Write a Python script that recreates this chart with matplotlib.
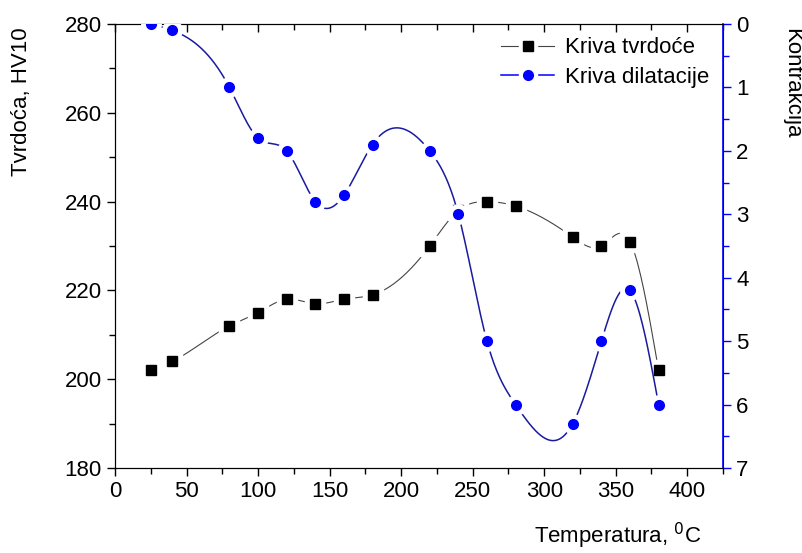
import numpy as np
import matplotlib
matplotlib.use('Agg')
import matplotlib.pyplot as plt
from matplotlib.ticker import MultipleLocator
from matplotlib.lines import Line2D
from matplotlib.legend_handler import HandlerTuple

plt.rcParams['font.family'] = ['Liberation Sans', 'DejaVu Sans']

# temperature, deg C
temp = [25, 40, 80, 100, 120, 140, 160, 180, 220, 240, 260, 280, 320, 340, 360, 380]
# hardness HV10
tvrdoca = [202, 204, 212, 215, 218, 217, 218, 219, 230, 238, 240, 239, 232, 230, 231, 202]
# contraction
kontrakcija = [0.0, 0.1, 1.0, 1.8, 2.0, 2.8, 2.7, 1.9, 2.0, 3.0, 5.0, 6.0, 6.3, 5.0, 4.2, 6.0]


def natural_spline(x, y, n=600):
    # natural cubic spline, only used to draw the smooth connecting line
    x = np.asarray(x, float)
    y = np.asarray(y, float)
    k = len(x)
    h = np.diff(x)
    A = np.zeros((k, k))
    b = np.zeros(k)
    A[0, 0] = A[-1, -1] = 1
    for i in range(1, k - 1):
        A[i, i - 1] = h[i - 1]
        A[i, i] = 2 * (h[i - 1] + h[i])
        A[i, i + 1] = h[i]
        b[i] = 6 * ((y[i + 1] - y[i]) / h[i] - (y[i] - y[i - 1]) / h[i - 1])
    m = np.linalg.solve(A, b)
    xs = np.linspace(x[0], x[-1], n)
    idx = np.clip(np.searchsorted(x, xs) - 1, 0, k - 2)
    x0, x1 = x[idx], x[idx + 1]
    hh = x1 - x0
    t0 = x1 - xs
    t1 = xs - x0
    ys = (m[idx] * t0 ** 3 + m[idx + 1] * t1 ** 3) / (6 * hh) \
        + (y[idx] / hh - m[idx] * hh / 6) * t0 \
        + (y[idx + 1] / hh - m[idx + 1] * hh / 6) * t1
    return xs, ys


blue = '#0000ff'
gray = '#444444'
fs = 16
fig = plt.figure(figsize=(8.03, 5.53), dpi=100)
ax = fig.add_axes([115 / 803, 1 - 468 / 553, (723 - 115) / 803, (468 - 24) / 553])
ax2 = ax.twinx()

# hardness curve
xs, ys = natural_spline(temp, tvrdoca)
ax.plot(xs, ys, color=gray, lw=0.8, zorder=2)
ax.plot(temp, tvrdoca, ls='none', marker='s', ms=14, mfc='white', mec='white', zorder=3)
ax.plot(temp, tvrdoca, ls='none', marker='s', ms=6.5, color='black', zorder=4)

# dilatation curve
xs2, ys2 = natural_spline(temp, kontrakcija)
ax2.plot(xs2, ys2, color='#1a1aa0', lw=1.1, zorder=2)
ax2.plot(temp, kontrakcija, ls='none', marker='o', ms=14, mfc='white', mec='white', zorder=3)
ax2.plot(temp, kontrakcija, ls='none', marker='o', ms=7, color=blue, zorder=4)

ax.set_xlim(0, 425)
ax.set_ylim(180, 280)
ax2.set_ylim(7, 0)

ax.xaxis.set_major_locator(MultipleLocator(50))
ax.xaxis.set_minor_locator(MultipleLocator(25))
ax.yaxis.set_major_locator(MultipleLocator(20))
ax.yaxis.set_minor_locator(MultipleLocator(10))
ax2.yaxis.set_major_locator(MultipleLocator(1))
ax2.yaxis.set_minor_locator(MultipleLocator(0.5))

ax.tick_params(axis='both', which='major', direction='out', length=6, width=1, labelsize=fs)
ax.tick_params(axis='both', which='minor', direction='out', length=4, width=1)
ax.tick_params(axis='x', top=True, which='both')
ax2.tick_params(axis='y', which='major', direction='out', length=6, width=1,
                colors=blue, labelcolor='black', labelsize=fs)
ax2.tick_params(axis='y', which='minor', direction='out', length=4, width=1, colors=blue)
ax2.spines['right'].set_color(blue)
ax2.spines['right'].set_linewidth(1.2)

# top ticks point inward
for t in ax.xaxis.get_major_ticks() + ax.xaxis.get_minor_ticks():
    t.tick2line.set_marker(matplotlib.lines.TICKDOWN)

fig.text(22 / 803, 1 - 102 / 553, 'Tvrdoća, HV10', rotation=90, ha='center', va='center', fontsize=fs)
fig.text(792 / 803, 1 - 83 / 553, 'Kontrakcija', rotation=270, ha='center', va='center', fontsize=fs)
fig.text(618 / 803, 1 - 536 / 553, 'Temperatura, $^{0}$C', ha='center', va='center', fontsize=fs)

# legend handles: line with a gap around the marker
h1 = (Line2D([], [], color=gray, lw=0.8),
      Line2D([], [], ls='none', marker='s', ms=13, mfc='white', mec='white'),
      Line2D([], [], ls='none', marker='s', ms=6.5, mfc='black', mec='black'))
h2 = (Line2D([], [], color=blue, lw=1.1),
      Line2D([], [], ls='none', marker='o', ms=13, mfc='white', mec='white'),
      Line2D([], [], ls='none', marker='o', ms=7, mfc=blue, mec=blue))
ax.legend([h1, h2], ['Kriva tvrdoće', 'Kriva dilatacije'], loc='upper right',
          handler_map={tuple: HandlerTuple(ndivide=1, pad=0)},
          frameon=False, fontsize=fs, handlelength=2.4, handletextpad=0.5,
          borderaxespad=0.2, labelspacing=0.4)

fig.savefig('out.png', dpi=100)
